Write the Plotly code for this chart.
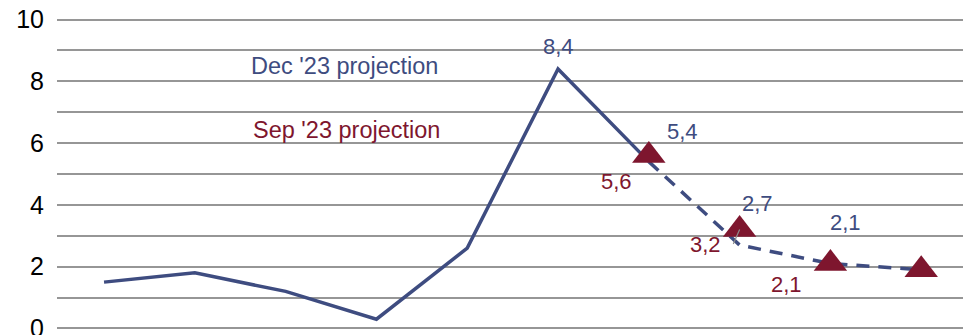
import plotly.graph_objects as go

# Data
dec_solid_x = [0, 1, 2, 3, 4, 5, 6]
dec_solid_y = [1.5, 1.8, 1.2, 0.3, 2.6, 8.4, 5.4]
dec_dash_x = [6, 7, 8, 9]
dec_dash_y = [5.4, 2.7, 2.1, 1.9]
sep_x = [6, 7, 8, 9]
sep_y = [5.6, 3.2, 2.1, 1.9]

dec_labels = [(5, 8.4, "8,4", 0, 22), (6, 5.4, "5,4", 34, 30), (7, 2.7, "2,7", 18, 42), (8, 2.1, "2,1", 15, 41)]
sep_labels = [(6, 5.6, "5,6", -32, -26), (7, 3.2, "3,2", -34, -15), (8, 2.1, "2,1", -44, -21)]

BLUE = "rgb(62,76,128)"
RED = "rgb(126,22,46)"
FONT = "Liberation Sans, Arial, sans-serif"

fig = go.Figure()
fig.add_trace(go.Scatter(x=dec_solid_x, y=dec_solid_y, mode="lines",
                         line=dict(color=BLUE, width=3.5), showlegend=False))
fig.add_trace(go.Scatter(x=dec_dash_x, y=dec_dash_y, mode="lines",
                         line=dict(color=BLUE, width=3.5, dash="13px,9px"), showlegend=False))
fig.add_trace(go.Scatter(x=sep_x, y=sep_y, mode="markers",
                         marker=dict(symbol="triangle-up", size=29, color=RED), showlegend=False))

for x, y, t, xs, ys in dec_labels:
    fig.add_annotation(x=x, y=y, text=t, showarrow=False, xshift=xs, yshift=ys,
                       font=dict(color=BLUE, size=22, family=FONT))
for x, y, t, xs, ys in sep_labels:
    fig.add_annotation(x=x, y=y, text=t, showarrow=False, xshift=xs, yshift=ys,
                       font=dict(color=RED, size=22, family=FONT))

# leader line for 3,2
fig.add_annotation(x=7, y=3.2, text="", showarrow=True, arrowhead=0, ax=-7, ay=16,
                   arrowcolor="rgb(140,140,140)", arrowwidth=1.2)

fig.add_annotation(x=2.65, y=8.5, text="Dec '23 projection", showarrow=False,
                   font=dict(color=BLUE, size=23.5, family=FONT))
fig.add_annotation(x=2.67, y=6.43, text="Sep '23 projection", showarrow=False,
                   font=dict(color=RED, size=23.5, family=FONT))

yt = list(range(0, 11))
fig.update_layout(
    width=963, height=335,
    margin=dict(l=57, r=0, t=18.46, b=5.46, autoexpand=False),
    plot_bgcolor="white", paper_bgcolor="white",
    font=dict(family=FONT, size=23, color="black"),
    xaxis=dict(range=[-0.518, 9.46], showgrid=False, zeroline=False,
               showticklabels=False, showline=False, automargin=False),
    yaxis=dict(range=[-0.05, 10.05], tickvals=yt,
               ticktext=[str(v) if v % 2 == 0 else "" for v in yt],
               showgrid=True, gridcolor="rgb(150,150,150)", gridwidth=2,
               zeroline=False, showline=False, ticklabelstandoff=12,
               ticklabeloverflow="allow", tickfont=dict(size=25),
               automargin=False),
)

fig.write_html("out.html")
